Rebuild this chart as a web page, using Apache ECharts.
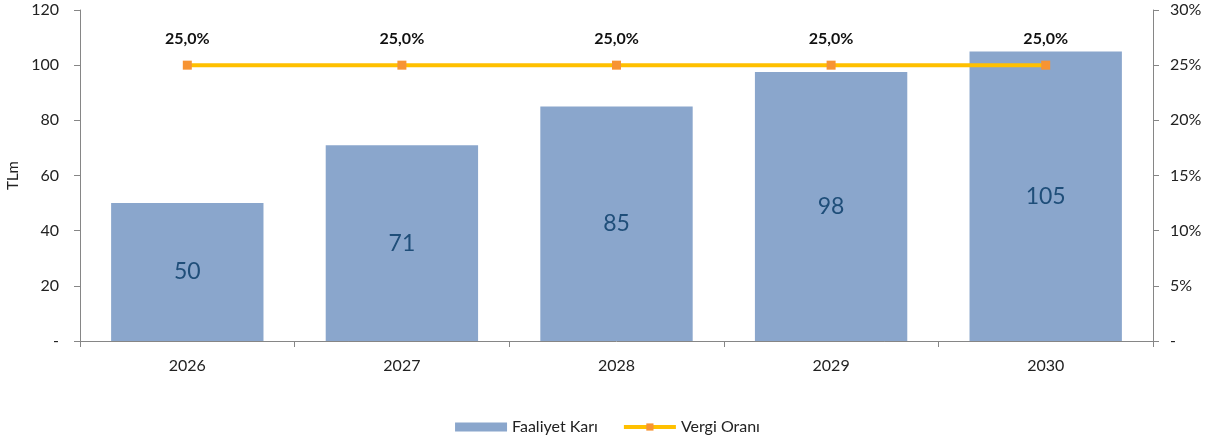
<!DOCTYPE html>
<html>
<head>
<meta charset="utf-8">
<script src="https://cdn.jsdelivr.net/npm/echarts@6/dist/echarts.min.js"></script>
<style>
  html, body { margin: 0; padding: 0; background: #fff; }
  #chart_main { width: 1215px; height: 446px; }
</style>
</head>
<body>
<div id="chart_main"></div>
<script>
// veriler
var years = ['2026', '2027', '2028', '2029', '2030'];
var faaliyetKari = [50, 71, 85, 97.5, 105];
var vergiOrani = [0.25, 0.25, 0.25, 0.25, 0.25];
var leftTicks = [0, 20, 40, 60, 80, 100, 120];
var rightTicks = [0, 0.05, 0.10, 0.15, 0.20, 0.25, 0.30];

var font = 'Lato, "Open Sans", sans-serif';
var axisColor = '#868686';

var myChart = echarts.init(document.getElementById('chart_main'));

var option = {
    animation: false,
    textStyle: { fontFamily: font },
    grid: { left: 80, right: 62, top: 10, bottom: 105, outerBoundsMode: 'none' },
    legend: {
        bottom: 6,
        left: 'center',
        itemWidth: 52,
        itemHeight: 9,
        itemGap: 24,
        lineStyle: { width: 4 },
        textStyle: { fontSize: 16, color: '#222', fontFamily: font },
        data: [
            { name: 'Faaliyet Karı', icon: 'rect' },
            { name: 'Vergi Oranı' }
        ]
    },
    xAxis: {
        type: 'category',
        data: years,
        axisLine: { lineStyle: { color: axisColor } },
        axisTick: { show: true, length: 6, lineStyle: { color: axisColor } },
        axisLabel: { color: '#222', fontSize: 16, margin: 17 }
    },
    yAxis: [
        {
            type: 'value',
            min: leftTicks[0],
            max: leftTicks[leftTicks.length - 1],
            interval: 20,
            name: 'TLm',
            nameLocation: 'middle',
            nameGap: 58,
            nameTextStyle: { fontSize: 15, color: '#222' },
            splitLine: { show: false },
            axisLine: { show: true, lineStyle: { color: axisColor } },
            axisTick: { show: true, length: 6, lineStyle: { color: axisColor } },
            axisLabel: {
                color: '#222', fontSize: 16, margin: 21,
                formatter: function (v) { return v === 0 ? '-' : v; }
            }
        },
        {
            type: 'value',
            min: rightTicks[0],
            max: rightTicks[rightTicks.length - 1],
            interval: 0.05,
            splitLine: { show: false },
            axisLine: { show: true, lineStyle: { color: axisColor } },
            axisTick: { show: true, length: 6, lineStyle: { color: axisColor } },
            axisLabel: {
                color: '#222', fontSize: 16, margin: 17,
                formatter: function (v) { return v === 0 ? '-' : Math.round(v * 100) + '%'; }
            }
        }
    ],
    series: [
        {
            name: 'Faaliyet Karı',
            type: 'bar',
            data: faaliyetKari,
            barWidth: '71%',
            itemStyle: { color: '#8AA6CC' },
            label: {
                show: true,
                position: 'inside',
                color: '#1F4E79',
                fontSize: 23,
                formatter: function (p) { return Math.round(p.value); }
            }
        },
        {
            name: 'Vergi Oranı',
            type: 'line',
            yAxisIndex: 1,
            data: vergiOrani,
            lineStyle: { color: '#FFC000', width: 4 },
            itemStyle: { color: '#F79433' },
            symbol: 'rect',
            symbolSize: 9,
            label: {
                show: true,
                position: 'top',
                distance: 14,
                fontWeight: 'bold',
                fontSize: 16,
                color: '#111',
                formatter: function (p) { return (p.value * 100).toFixed(1).replace('.', ',') + '%'; }
            }
        }
    ]
};

myChart.setOption(option);
</script>
</body>
</html>
